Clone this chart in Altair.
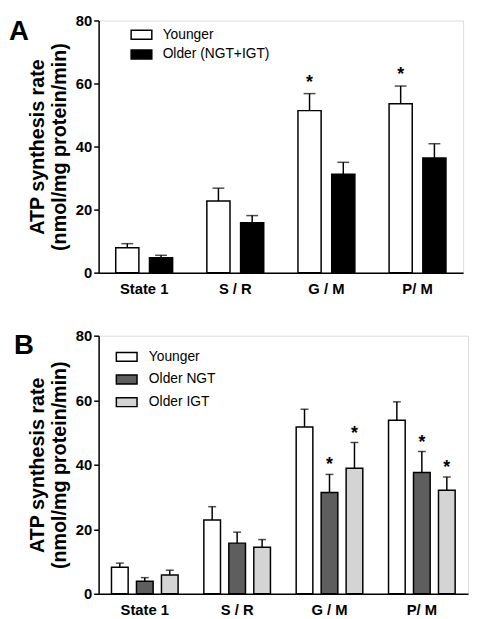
import altair as alt
import pandas as pd

FONT = "Liberation Sans"

categories = ["State 1", "S / R", "G / M", "P/ M"]

# Panel A
a_groups = ["Younger", "Older (NGT+IGT)"]
a_colors = ["#ffffff", "#000000"]
a_younger = [7.9, 22.7, 51.4, 53.6]
a_younger_top = [9.2, 26.8, 56.8, 59.2]
a_older = [4.7, 15.8, 31.2, 36.4]
a_older_top = [5.5, 18.1, 35.0, 40.9]
a_younger_sig = [False, False, True, True]
a_older_sig = [False, False, False, False]

# Panel B
b_groups = ["Younger", "Older NGT", "Older IGT"]
b_colors = ["#ffffff", "#5e5e5e", "#d4d4d4"]
b_younger = [8.2, 22.9, 51.7, 53.8]
b_younger_top = [9.5, 27.0, 57.2, 59.5]
b_ngt = [3.9, 15.7, 31.4, 37.6]
b_ngt_top = [5.0, 19.1, 37.0, 44.1]
b_igt = [5.8, 14.4, 38.9, 32.1]
b_igt_top = [7.3, 16.8, 46.9, 36.2]
b_younger_sig = [False, False, False, False]
b_ngt_sig = [False, False, True, True]
b_igt_sig = [False, False, True, True]

y_ticks = [0, 20, 40, 60, 80]
y_title = ["ATP synthesis rate", "(nmol/mg protein/min)"]


def make_df(groups, values, tops, sigs):
    rows = []
    for g, vals, tps, sg in zip(groups, values, tops, sigs):
        for c, v, t, s in zip(categories, vals, tps, sg):
            rows.append({"cat": c, "group": g, "value": v, "top": t,
                         "star": "*" if s else ""})
    return pd.DataFrame(rows)


df_a = make_df(a_groups, [a_younger, a_older], [a_younger_top, a_older_top],
               [a_younger_sig, a_older_sig])
df_b = make_df(b_groups, [b_younger, b_ngt, b_igt],
               [b_younger_top, b_ngt_top, b_igt_top],
               [b_younger_sig, b_ngt_sig, b_igt_sig])

SYMBOL = "M-1,-0.43H1V0.43H-1Z"


def panel(df, groups, colors, letter, width, height, pi, po, cap, star_dy,
          letter_x, letter_y, legend_x, legend_y, row_pad, label_offset):
    x = alt.X("cat:N", sort=categories,
              scale=alt.Scale(paddingInner=0, paddingOuter=0),
              axis=alt.Axis(title=None, labelAngle=0, ticks=False,
                            labelFont=FONT, labelFontSize=15,
                            labelFontWeight="bold", labelColor="black",
                            labelPadding=9, domainColor="black",
                            domainWidth=1.5))
    xo = alt.XOffset("group:N", sort=groups,
                     scale=alt.Scale(paddingInner=pi, paddingOuter=po))
    yscale = alt.Scale(domain=[0, 80], nice=False)
    yaxis = alt.Axis(values=y_ticks, title=y_title, grid=False,
                     labelFont=FONT, labelFontSize=15,
                     labelFontWeight="bold", labelColor="black",
                     tickColor="black", tickWidth=1.5, tickSize=5,
                     labelPadding=2, domainColor="black",
                     domainWidth=1.5, titleFont=FONT,
                     titleFontSize=20, titleFontWeight="bold",
                     titleColor="black", titlePadding=6,
                     titleLineHeight=22)
    y = alt.Y("value:Q", scale=yscale, axis=yaxis, title=y_title)
    ytop = alt.Y("top:Q", scale=yscale, axis=yaxis, title=y_title)
    base = alt.Chart(df)
    bars = base.mark_bar(stroke="black", strokeWidth=1.5).encode(
        x=x, xOffset=xo, y=y,
        color=alt.Color("group:N", sort=groups,
                        scale=alt.Scale(domain=groups, range=colors),
                        legend=alt.Legend(
                            title=None, orient="none", legendX=legend_x,
                            legendY=legend_y, symbolType=SYMBOL,
                            symbolSize=441, symbolStrokeColor="black",
                            symbolStrokeWidth=1.5, symbolOpacity=1,
                            labelFont=FONT, labelFontSize=14,
                            labelColor="black", labelOffset=label_offset,
                            rowPadding=row_pad, padding=0)))
    rules = base.mark_rule(color="black", strokeWidth=1.5).encode(
        x=x, xOffset=xo, y=y, y2="top:Q")
    caps = base.mark_tick(color="black", thickness=1.5, size=cap,
                          orient="horizontal").encode(
        x=x, xOffset=xo, y=ytop)
    stars = base.transform_filter(alt.datum.star == "*").mark_text(
        font=FONT, fontSize=18, fontWeight="bold", color="black",
        baseline="alphabetic", dy=star_dy).encode(
        x=x, xOffset=xo, y=ytop, text="star:N")
    lab = alt.Chart(pd.DataFrame({"t": [letter]})).mark_text(
        font=FONT, fontSize=28, fontWeight="bold", color="black",
        align="left", baseline="top").encode(
        x=alt.value(letter_x), y=alt.value(letter_y), text="t:N")
    return alt.layer(bars, rules, caps, stars, lab).properties(
        width=width, height=height)


pa = panel(df_a, a_groups, a_colors, "A", 370, 256, 0.314, 0.507, 12, -6,
           -91, -2, 32, 3, 0, 10)
pb = panel(df_b, b_groups, b_colors, "B", 375, 262, 0.333, 0.515, 8, -4,
           -86, -3, 17, 10, 3, 11)

chart = alt.vconcat(pa, pb, spacing=31).resolve_scale(
    color="independent", x="independent", y="independent",
    xOffset="independent").properties(padding=0).configure_view(
    strokeWidth=0).configure(font=FONT)

chart.save("out.html", embed_options={"renderer": "svg", "actions": False})
